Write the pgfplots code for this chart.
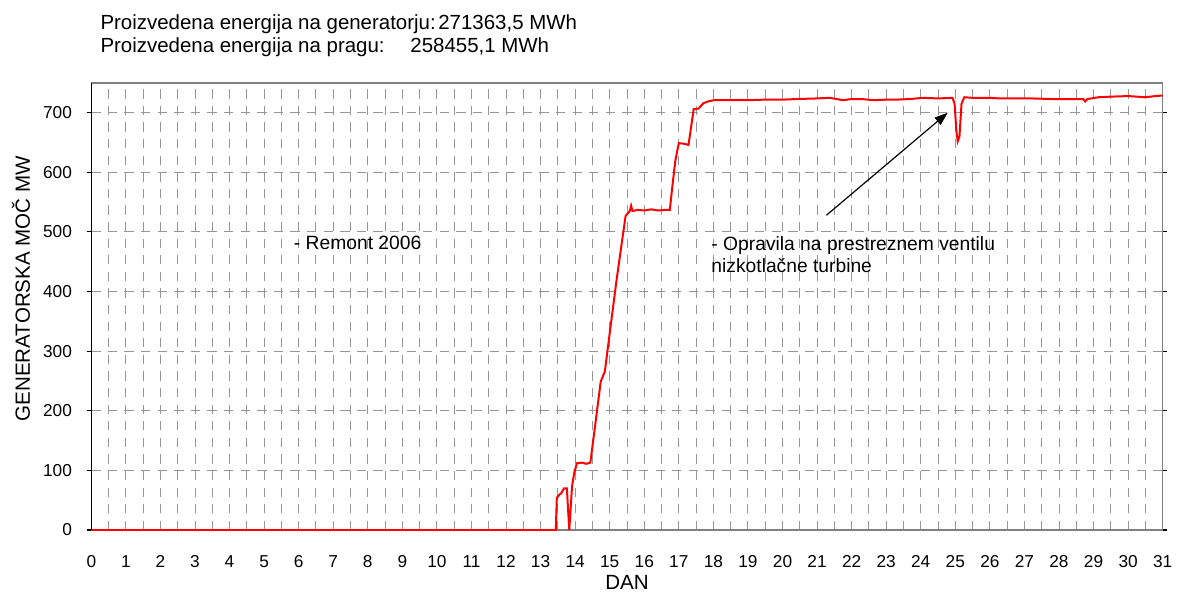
\documentclass[border=0pt]{standalone}
\usepackage{pgfplots}
\pgfplotsset{compat=1.18}
\usepackage{fontspec}
\setmainfont{Liberation Sans}
\usetikzlibrary{arrows.meta}
\definecolor{gridgray}{RGB}{150,150,150}
\definecolor{framegray}{RGB}{128,128,128}
\begin{document}
\fontsize{13}{15.6}\selectfont
\begin{tikzpicture}
\begin{scope}[x=0.75pt,y=0.75pt]
\useasboundingbox (-91.7,-62.7) rectangle (1086.3,532.3);
\end{scope}
\begin{axis}[
  at={(0,0)}, anchor=south west,
  scale only axis, width=807pt, height=336.75pt,
  xmin=0, xmax=31, ymin=0, ymax=750,
  xtick={0,1,...,31}, minor x tick num=1,
  ytick={0,100,...,700},
  /pgf/number format/assume math mode=true,
  xmajorgrids, xminorgrids, ymajorgrids,
  grid style={gridgray, line width=0.7pt, dash pattern=on 7pt off 5.5pt},
  minor grid style={gridgray, line width=0.7pt, dash pattern=on 7pt off 5.5pt},
  axis line style={framegray, line width=1pt},
  x tick style={draw=none},
  minor x tick style={draw=none},
  y tick style={black, line width=0.8pt},
  tick align=outside, major tick length=3.6pt,
  tick label style={font=\fontsize{13}{15.6}\selectfont},
  xticklabel style={yshift=-11pt},
  yticklabel style={xshift=-6.5pt},
  clip=false,
]
\addplot[red, line width=1.5pt] coordinates {
(0,0) (13.44,0) (13.47,54) (13.54,59) (13.60,62) (13.68,70) (13.76,70) (13.83,0)
(13.91,73) (13.97,95) (14.05,112) (14.20,113) (14.32,111) (14.44,113) (14.60,185)
(14.74,249) (14.86,266) (15.00,330) (15.20,420) (15.46,527) (15.58,535) (15.62,544)
(15.66,535) (15.80,537) (16.00,536) (16.20,538) (16.40,536) (16.60,537) (16.74,537)
(16.80,570) (16.90,620) (17.00,649) (17.15,648) (17.28,646) (17.43,706) (17.57,707)
(17.71,716) (17.85,719) (18.01,721) (18.5,721) (18.97,721) (19.5,722) (20.0,722)
(20.41,723) (21.0,724) (21.37,725) (21.75,721) (22.0,723) (22.3,723) (22.62,721)
(23.0,722) (23.29,722) (23.7,723) (24.06,725) (24.5,724) (24.92,725) (24.98,715)
(25.03,670) (25.07,652) (25.12,660) (25.18,715) (25.26,726) (25.5,725) (25.98,725)
(26.3,724) (26.65,724) (27.2,724) (27.80,723) (28.3,723) (28.70,723) (28.76,719)
(28.82,723) (29.14,726) (29.5,727) (30.01,728) (30.49,726) (30.8,728) (31,729)
};
\draw[black, line width=1.1pt] (rel axis cs:0,0) -- (rel axis cs:0,1);
\draw[black, line width=0.9pt, -{Triangle[length=10pt,width=7pt]}] (axis cs:21.27,528) -- (axis cs:24.78,700);
\end{axis}
\begin{scope}[x=0.75pt,y=0.75pt, every node/.style={font=\fontsize{15.4}{18}\selectfont}]
\node[anchor=base west, inner sep=0pt] at (9,502.3) {Proizvedena energija na generatorju:};
\node[anchor=base west, inner sep=0pt] at (348.3,502.3) {271363,5 MWh};
\node[anchor=base west, inner sep=0pt] at (9,479.3) {Proizvedena energija na pragu:};
\node[anchor=base west, inner sep=0pt] at (320.3,479.3) {258455,1 MWh};
\end{scope}
\begin{scope}[x=0.75pt,y=0.75pt, every node/.style={font=\fontsize{14.5}{17}\selectfont}]
\node[anchor=base west, inner sep=0pt] at (203.3,281.3) {- Remont 2006};
\node[anchor=base west, inner sep=0pt] at (622.6,280.6) {- Opravila na prestreznem ventilu};
\node[anchor=base west, inner sep=0pt] at (622.6,258.3) {nizkotla\v{c}ne turbine};
\end{scope}
\begin{scope}[x=0.75pt,y=0.75pt, every node/.style={font=\fontsize{15.5}{18}\selectfont}]
\node[anchor=base, rotate=90, inner sep=0pt] at (-61.7,242.3) {GENERATORSKA MOČ MW};
\node[anchor=base, inner sep=0pt] at (538,-59.5) {DAN};
\end{scope}
\end{tikzpicture}
\end{document}
